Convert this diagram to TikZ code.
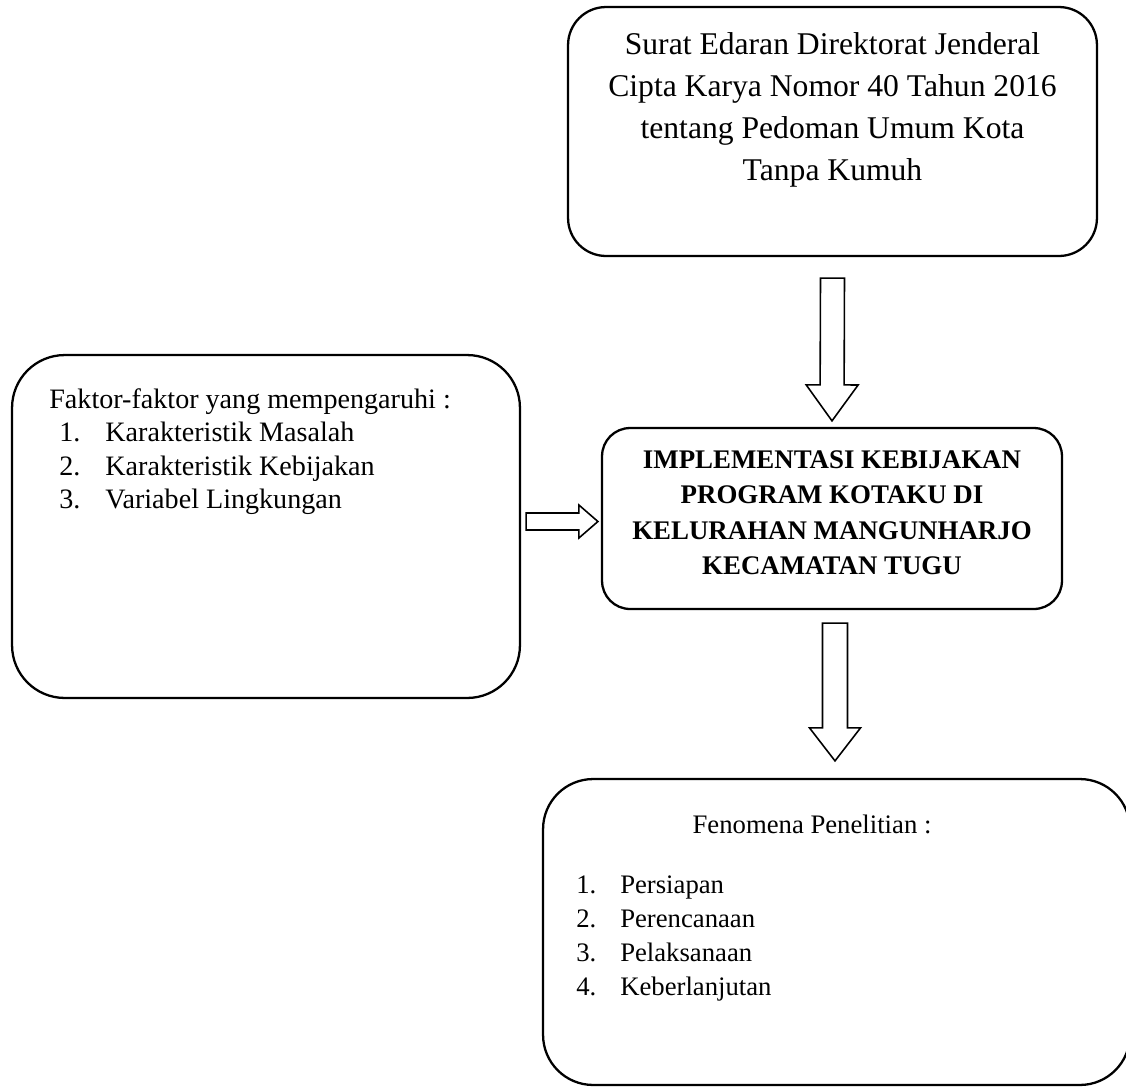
\documentclass[tikz,border=0pt]{standalone}
\usepackage{fontspec}
\setmainfont{Liberation Serif}
\usetikzlibrary{calc}
\tikzset{
  box/.style={draw, line width=1.3pt},
  arrowline/.style={draw, line width=0.9pt, fill=white},
  bigtext/.style={font=\fontsize{18}{23.9}\selectfont, align=center, inner sep=0pt},
  plaintext/.style={font=\fontsize{16}{19.1}\selectfont, align=left, inner sep=0pt},
  smalltext/.style={font=\fontsize{15.2}{19.35}\selectfont, align=left, inner sep=0pt},
  boldtext/.style={font=\fontsize{15.3}{20.2}\selectfont\bfseries, align=center, inner sep=0pt}
}
% hollow block arrow: from, tip, shaft half width, head half width, head length
\newcommand{\hollowarrow}[5]{%
  \coordinate (hb) at ($(#2)!#5!(#1)$);
  \draw[arrowline] ($(#1)!#3!90:(#2)$) -- ($(hb)!#3!90:(#2)$) -- ($(hb)!#4!90:(#2)$)
    -- (#2) -- ($(hb)!#4!-90:(#2)$) -- ($(hb)!#3!-90:(#2)$) -- ($(#1)!#3!-90:(#2)$) -- cycle;
}
\newcommand{\itemno}[2]{\makebox[#1][l]{#2}}

\begin{document}
\begin{tikzpicture}[x=0.02cm, y=-0.02cm]
    \useasboundingbox (0,0) rectangle (1126,1086);

    % Boxes
    \node[box, rounded corners=21.6pt, minimum width=10.58cm, minimum height=4.98cm] (surat) at (832.5,131.5) {};
    \node[box, rounded corners=30pt, minimum width=10.16cm, minimum height=6.86cm] (faktor) at (266,526.5) {};
    \node[box, rounded corners=16pt, minimum width=9.2cm, minimum height=3.62cm] (impl) at (832,518.5) {};
    \node[box, rounded corners=28.5pt, minimum width=11.74cm, minimum height=6.12cm] (fenomena) at (836.5,932) {};

    % Texts
    \node[bigtext, anchor=north] (surattext) at (832.5,32) {Surat Edaran Direktorat Jenderal\\ Cipta Karya Nomor 40 Tahun 2016\\ tentang Pedoman Umum Kota\\ Tanpa Kumuh};
    \node[boldtext, anchor=north] (impltext) at (832,450) {IMPLEMENTASI KEBIJAKAN\\ PROGRAM KOTAKU DI\\ KELURAHAN MANGUNHARJO\\ KECAMATAN TUGU};
    \node[plaintext, anchor=north west] (faktortext) at (49,388) {Faktor-faktor yang mempengaruhi :\\
      \hspace*{5.7pt}\itemno{26.2pt}{1.}Karakteristik Masalah\\
      \hspace*{5.7pt}\itemno{26.2pt}{2.}Karakteristik Kebijakan\\
      \hspace*{5.7pt}\itemno{26.2pt}{3.}Variabel Lingkungan};
    \node[smalltext, anchor=base] (fenomenahead) at (812,833) {Fenomena Penelitian :};
    \node[smalltext, anchor=north west] (fenomenalist) at (576,875) {\itemno{25pt}{1.}Persiapan\\
      \itemno{25pt}{2.}Perencanaan\\
      \itemno{25pt}{3.}Pelaksanaan\\
      \itemno{25pt}{4.}Keberlanjutan};

    % Arrows
    \coordinate (a1s) at ($(surat.south)+(0,21)$);
    \coordinate (a1t) at ($(impl.north)+(0,-6)$);
    \hollowarrow{a1s}{a1t}{0.24cm}{0.52cm}{0.72cm}
    \coordinate (a2s) at ($(faktor.east)+(5,-5)$);
    \coordinate (a2t) at ($(impl.west)+(-3,3)$);
    \hollowarrow{a2s}{a2t}{0.17cm}{0.33cm}{0.38cm}
    \coordinate (a3s) at ($(impl.south)+(3,13)$);
    \coordinate (a3t) at ($(fenomena.north)+(-1.5,-17)$);
    \hollowarrow{a3s}{a3t}{0.25cm}{0.51cm}{0.66cm}
\end{tikzpicture}
\end{document}
